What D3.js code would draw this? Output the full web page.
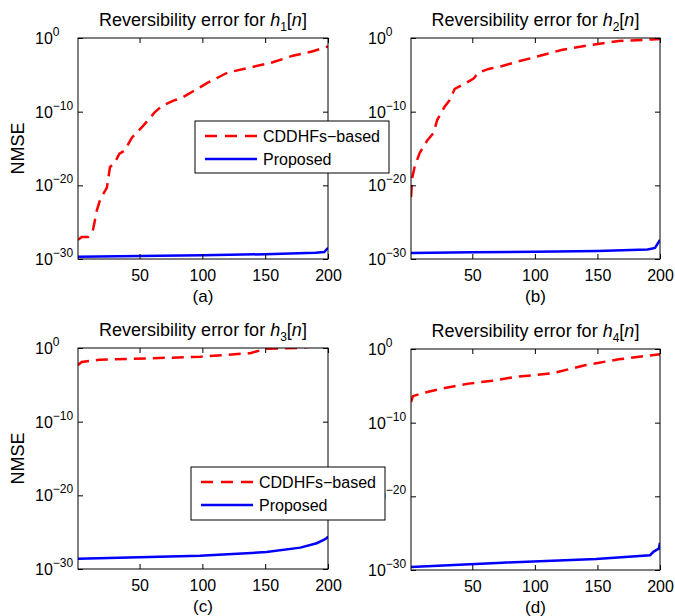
<!DOCTYPE html>
<html><head><meta charset="utf-8">
<script src="https://cdn.jsdelivr.net/npm/d3@7"></script>
<style>body{margin:0;background:#fff}svg{display:block}text{font-family:"Liberation Sans",Arial,Helvetica,sans-serif}</style>
</head><body><svg id="c" width="675" height="616"></svg>
<script>
// ---- data (NMSE given as log10 exponents) ----
const xTicks = [50, 100, 150, 200];
const yTickExps = [0, -10, -20, -30];
const seriesNames = ["CDDHFs\u2212based", "Proposed"];
const panelLabels = ["(a)", "(b)", "(c)", "(d)"];
const filterIdx = ["1", "2", "3", "4"];

const nA_cd = [1,4,9,13,16,18.5,24,26.5,30,34,38,44,48,53,62,68,77,84,93,104,120,138,156,172,188,200];
const eA_cd = [-27.4,-27,-27,-26,-23.4,-22,-20.3,-17.5,-17,-15.7,-15.3,-13.5,-12.8,-11.9,-10.1,-9.2,-8.5,-8.1,-7.2,-6.1,-4.7,-4,-3.3,-2.4,-1.8,-1.15];
const nA_pr = [1,50,100,150,190,197,200];
const eA_pr = [-29.7,-29.6,-29.5,-29.35,-29.15,-29.05,-28.5];

const nB_cd = [1,2,4,8,14,19,22,28,32,36,44,51,55,63,74,84,100,122,143,167,194,200];
const eB_cd = [-21.6,-19,-17.4,-15.6,-13.9,-12.9,-11.1,-9.3,-8.4,-6.9,-6.2,-5.5,-4.7,-4.2,-3.8,-3.3,-2.6,-1.6,-1.0,-0.4,-0.2,-0.15];
const nB_pr = [1,50,100,150,190,196,200];
const eB_pr = [-29.2,-29.1,-29.0,-28.9,-28.7,-28.5,-27.4];

const nC_cd = [1,4,18,58,98,138,151,178,190,200];
const eC_cd = [-2.3,-1.9,-1.6,-1.4,-1.2,-0.7,-0.1,0,0.3,0.5];
const nC_pr = [1,98,151,178,191,197,199,200];
const eC_pr = [-28.6,-28.2,-27.7,-27.1,-26.5,-26.0,-25.8,-25.6];

const nD_cd = [1,2.6,10,28,47,66,84,114,140,167,200];
const eD_cd = [-7.2,-6.4,-6.0,-5.3,-4.7,-4.3,-3.8,-3.3,-2.2,-1.4,-0.7];
const nD_pr = [1,74,149,192,195,199,200];
const eD_pr = [-29.6,-29.0,-28.5,-28.0,-27.5,-27.1,-26.3];

const panelData = [
  [[nA_cd,eA_cd],[nA_pr,eA_pr]],
  [[nB_cd,eB_cd],[nB_pr,eB_pr]],
  [[nC_cd,eC_cd],[nC_pr,eC_pr]],
  [[nD_cd,eD_cd],[nD_pr,eD_pr]]
];

// ---- layout ----
const boxes = [
  {l:78,  r:328, t:38,  b:259},
  {l:411, r:660, t:38,  b:259},
  {l:78,  r:328, t:348, b:569},
  {l:411, r:660, t:349, b:570}
];
const legends = [{x:195,y:121,w:194,h:52},{x:191,y:467,w:194,h:53}];
const colors = ["#ff0000", "#0000ff"];
const FS = 16;

const svg = d3.select("#c");
const defs = svg.append("defs");

boxes.forEach((bx, i) => {
  const x = d3.scaleLinear().domain([1, 200]).range([bx.l, bx.r]);
  const y = d3.scaleLog().domain([1e-30, 1]).range([bx.b, bx.t]);
  const g = svg.append("g");
  defs.append("clipPath").attr("id", "clip" + i).append("rect")
    .attr("x", bx.l).attr("y", bx.t).attr("width", bx.r - bx.l).attr("height", bx.b - bx.t);

  // lines
  const line = d3.line().x(d => x(d[0])).y(d => y(d[1]));
  panelData[i].forEach((s, k) => {
    const pts = s[0].map((n, j) => [n, Math.pow(10, s[1][j])]);
    g.append("path").attr("d", line(pts)).attr("fill", "none")
      .attr("stroke", colors[k]).attr("stroke-width", 2.5)
      .attr("stroke-dasharray", k === 0 ? "12 7" : null)
      .attr("clip-path", `url(#clip${i})`);
  });

  // axes (MATLAB style: inward ticks on all sides)
  const yVals = yTickExps.map(e => Math.pow(10, e));
  g.append("g").attr("transform", `translate(${bx.l},0)`)
    .call(d3.axisLeft(y).tickValues(yVals).tickSizeInner(-5).tickSizeOuter(0).tickFormat(""));
  g.append("g").attr("transform", `translate(${bx.r},0)`)
    .call(d3.axisRight(y).tickValues(yVals).tickSizeInner(-5).tickSizeOuter(0).tickFormat(""));
  g.append("g").attr("transform", `translate(0,${bx.b})`)
    .call(d3.axisBottom(x).tickValues(xTicks).tickSizeInner(-5).tickSizeOuter(0).tickPadding(11))
    .call(a => a.selectAll("text").attr("font-size", FS).attr("fill", "#000").attr("font-family", null));
  g.append("g").attr("transform", `translate(0,${bx.t})`)
    .call(d3.axisTop(x).tickValues(xTicks).tickSizeInner(-5).tickSizeOuter(0).tickFormat(""));
  g.selectAll(".domain").remove();
  g.selectAll(".tick line").attr("stroke", "#000");
  g.append("rect").attr("x", bx.l).attr("y", bx.t).attr("width", bx.r - bx.l).attr("height", bx.b - bx.t)
    .attr("fill", "none").attr("stroke", "#000").attr("stroke-width", 1);

  // y tick labels 10^e : base "10" aligned, exponent to its right
  yTickExps.forEach(e => {
    const t = g.append("text").attr("x", bx.l - 43).attr("y", y(Math.pow(10, e)) + 6)
      .attr("text-anchor", "start").attr("font-size", FS).attr("fill", "#000");
    t.append("tspan").text("10");
    t.append("tspan").attr("dy", -8).attr("font-size", 12).text(e === 0 ? "0" : "\u2212" + Math.abs(e));
  });

  // title
  const cx = (bx.l + bx.r) / 2;
  const tt = g.append("text").attr("x", cx).attr("y", bx.t - 12).attr("text-anchor", "middle")
    .attr("font-size", 18).attr("fill", "#000");
  tt.append("tspan").text("Reversibility error for ");
  tt.append("tspan").attr("font-style", "italic").text("h");
  tt.append("tspan").attr("dy", 5).attr("font-size", 12).text(filterIdx[i]);
  tt.append("tspan").attr("dy", -5).text("[");
  tt.append("tspan").attr("font-style", "italic").text("n");
  tt.append("tspan").text("]");

  // panel label
  g.append("text").attr("x", cx).attr("y", bx.b + 43).attr("text-anchor", "middle")
    .attr("font-size", FS + 1).attr("fill", "#000").text(panelLabels[i]);

  // NMSE label (left column)
  if (i % 2 === 0) {
    g.append("text").attr("transform", `translate(24,${(bx.t + bx.b) / 2}) rotate(-90)`)
      .attr("text-anchor", "middle").attr("font-size", 18).attr("fill", "#000").text("NMSE");
  }
});

// legends drawn on top
legends.forEach(L => {
  const g = svg.append("g");
  g.append("rect").attr("x", L.x).attr("y", L.y).attr("width", L.w).attr("height", L.h)
    .attr("fill", "#fff").attr("stroke", "#000").attr("stroke-width", 1);
  seriesNames.forEach((name, k) => {
    const yy = L.y + 15 + k * 23;
    g.append("line").attr("x1", L.x + 10).attr("x2", L.x + 62).attr("y1", yy).attr("y2", yy)
      .attr("stroke", colors[k]).attr("stroke-width", 2.5)
      .attr("stroke-dasharray", k === 0 ? "12 8" : null);
    g.append("text").attr("x", L.x + 68).attr("y", yy + 6).attr("font-size", FS)
      .attr("fill", "#000").text(name);
  });
});
</script></body></html>
